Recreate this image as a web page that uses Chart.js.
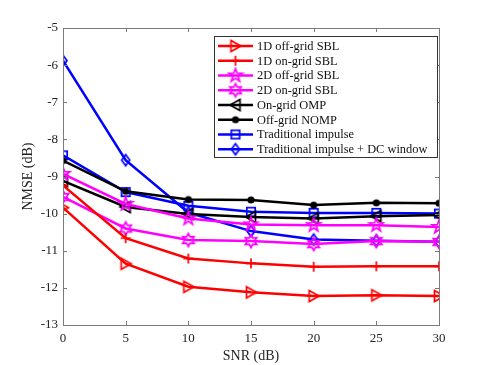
<!DOCTYPE html>
<html>
<head>
<meta charset="utf-8">
<script src="https://cdn.jsdelivr.net/npm/chart.js@4"></script>
<style>
  html, body { margin: 0; padding: 0; background: #fff; }
  #wrap { width: 485px; height: 365px; }
</style>
</head>
<body>
<div id="wrap"><canvas id="chart" width="485" height="365"></canvas></div>
<script>
/* ================= DATA ================= */
const snr = [0, 5, 10, 15, 20, 25, 30];
const offGrid1D = [-9.84, -11.35, -11.97, -12.12, -12.22, -12.2, -12.22];
const onGrid1D = [-9.24, -10.66, -11.21, -11.34, -11.43, -11.42, -11.42];
const offGrid2D = [-8.93, -9.74, -10.13, -10.29, -10.31, -10.31, -10.36];
const onGrid2D = [-9.55, -10.4, -10.71, -10.74, -10.82, -10.74, -10.76];
const onGridOMP = [-9.12, -9.82, -10.01, -10.09, -10.13, -10.07, -10.04];
const offGridNOMP = [-8.57, -9.4, -9.62, -9.63, -9.77, -9.71, -9.72];
const tradImpulse = [-8.43, -9.42, -9.79, -9.95, -9.98, -9.98, -10.0];
const tradImpulseDC = [-5.88, -8.56, -9.97, -10.47, -10.7, -10.73, -10.76];

const seriesNames = [
  "1D off-grid SBL",
  "1D on-grid SBL",
  "2D off-grid SBL",
  "2D on-grid SBL",
  "On-grid OMP",
  "Off-grid NOMP",
  "Traditional impulse",
  "Traditional impulse + DC window",
];
const seriesValues = [offGrid1D, onGrid1D, offGrid2D, onGrid2D, onGridOMP, offGridNOMP, tradImpulse, tradImpulseDC];
const seriesColors = ["#ff0000", "#ff0000", "#ff00ff", "#ff00ff", "#000000", "#000000", "#0000ff", "#0000ff"];
const seriesMarkers = ["triRight", "plus", "pentagram", "hexagram", "triLeft", "dot", "square", "diamond"];

const FONT = "'Liberation Serif', 'Times New Roman', serif";

/* ================= MARKERS ================= */
function starPath(g, n, ro, ri) {
  g.beginPath();
  for (let k = 0; k < n * 2; k++) {
    const r = k % 2 === 0 ? ro : ri;
    const a = -Math.PI / 2 + (k * Math.PI) / n;
    const px = r * Math.cos(a), py = r * Math.sin(a);
    k === 0 ? g.moveTo(px, py) : g.lineTo(px, py);
  }
  g.closePath();
}

function makeMarker(kind, color) {
  const c = document.createElement("canvas");
  c.width = 18;
  c.height = 18;
  const g = c.getContext("2d");
  g.translate(9, 9);
  g.strokeStyle = color;
  g.fillStyle = color;
  g.lineWidth = 1.7;
  switch (kind) {
    case "triRight":
      g.beginPath();
      g.moveTo(-4.5, -5.5); g.lineTo(5.5, 0); g.lineTo(-4.5, 5.5);
      g.closePath(); g.stroke();
      break;
    case "triLeft":
      g.beginPath();
      g.moveTo(4.5, -5.5); g.lineTo(-5.5, 0); g.lineTo(4.5, 5.5);
      g.closePath(); g.stroke();
      break;
    case "plus":
      g.beginPath();
      g.moveTo(-5, 0); g.lineTo(5, 0); g.moveTo(0, -5); g.lineTo(0, 5);
      g.stroke();
      break;
    case "pentagram":
      starPath(g, 5, 7, 2.8); g.stroke();
      break;
    case "hexagram":
      starPath(g, 6, 6.5, 3.6); g.stroke();
      break;
    case "dot":
      g.beginPath(); g.arc(0, 0, 3.6, 0, Math.PI * 2); g.fill();
      break;
    case "square":
      g.strokeRect(-4.2, -4.2, 8.4, 8.4);
      break;
    case "diamond":
      g.beginPath();
      g.moveTo(0, -5.5); g.lineTo(4, 0); g.lineTo(0, 5.5); g.lineTo(-4, 0);
      g.closePath(); g.stroke();
      break;
  }
  return c;
}

const markerImgs = seriesMarkers.map((m, i) => makeMarker(m, seriesColors[i]));

/* ================= PLUGINS ================= */
const AXIS_COLOR = "#7a7a7a";

// full box with inward ticks, MATLAB style
const boxPlugin = {
  id: "box",
  afterDatasetsDraw(chart) {
    const { ctx, chartArea: a, scales } = chart;
    ctx.save();
    ctx.strokeStyle = AXIS_COLOR;
    ctx.lineWidth = 1;
    ctx.strokeRect(Math.round(a.left) + 0.5, Math.round(a.top) + 0.5,
      Math.round(a.right - a.left), Math.round(a.bottom - a.top));
    const len = 4;
    ctx.beginPath();
    scales.x.ticks.forEach((t) => {
      const x = Math.round(scales.x.getPixelForValue(t.value)) + 0.5;
      ctx.moveTo(x, a.bottom); ctx.lineTo(x, a.bottom - len);
      ctx.moveTo(x, a.top); ctx.lineTo(x, a.top + len);
    });
    scales.y.ticks.forEach((t) => {
      const y = Math.round(scales.y.getPixelForValue(t.value)) + 0.5;
      ctx.moveTo(a.left, y); ctx.lineTo(a.left + len, y);
      ctx.moveTo(a.right, y); ctx.lineTo(a.right - len, y);
    });
    ctx.stroke();
    ctx.restore();
  },
};

const legendPlugin = {
  id: "boxLegend",
  afterDraw(chart) {
    const ctx = chart.ctx;
    const left = 214.5, top = 36.5, w = 223, h = 121;
    ctx.save();
    ctx.fillStyle = "#fff";
    ctx.fillRect(left, top, w, h);
    ctx.strokeStyle = "#333";
    ctx.lineWidth = 1;
    ctx.strokeRect(left, top, w, h);
    ctx.font = "12.4px " + FONT;
    ctx.textBaseline = "middle";
    seriesNames.forEach((name, i) => {
      const y = 46 + i * 14.75;
      ctx.strokeStyle = seriesColors[i];
      ctx.lineWidth = 2.5;
      ctx.beginPath();
      ctx.moveTo(218, y);
      ctx.lineTo(253, y);
      ctx.stroke();
      ctx.drawImage(markerImgs[i], 235.5 - 9, y - 9);
      ctx.fillStyle = "#111";
      ctx.fillText(name, 257, y + 0.5);
    });
    ctx.restore();
  },
};

/* ================= CHART ================= */
const datasets = seriesNames.map((name, i) => ({
  label: name,
  data: seriesValues[i].map((v, k) => ({ x: snr[k], y: v })),
  borderColor: seriesColors[i],
  backgroundColor: seriesColors[i],
  borderWidth: 2.5,
  pointStyle: markerImgs[i],
  pointRadius: 5,
  tension: 0,
  fill: false,
}));

new Chart(document.getElementById("chart"), {
  type: "line",
  data: { datasets },
  plugins: [boxPlugin, legendPlugin],
  options: {
    responsive: false,
    animation: false,
    layout: { padding: { left: 20, right: 46, top: 28, bottom: 0 } },
    plugins: { legend: { display: false }, tooltip: { enabled: false } },
    scales: {
      x: {
        type: "linear",
        min: 0,
        max: 30,
        grid: { display: false, drawTicks: false },
        border: { display: false },
        ticks: { stepSize: 5, color: "#222", padding: 6, font: { family: FONT, size: 13 } },
        title: { display: true, text: "SNR (dB)", color: "#222", padding: { top: 2, bottom: 0 }, font: { family: FONT, size: 14 } },
        afterFit: (s) => { s.height = 40; },
      },
      y: {
        type: "linear",
        min: -13,
        max: -5,
        grid: { display: false, drawTicks: false },
        border: { display: false },
        ticks: { stepSize: 1, color: "#222", padding: 5, font: { family: FONT, size: 13 } },
        title: { display: true, text: "NMSE (dB)", color: "#222", padding: { top: 0, bottom: 2 }, font: { family: FONT, size: 14 } },
        afterFit: (s) => { s.width = 43; },
      },
    },
  },
});
</script>
</body>
</html>
